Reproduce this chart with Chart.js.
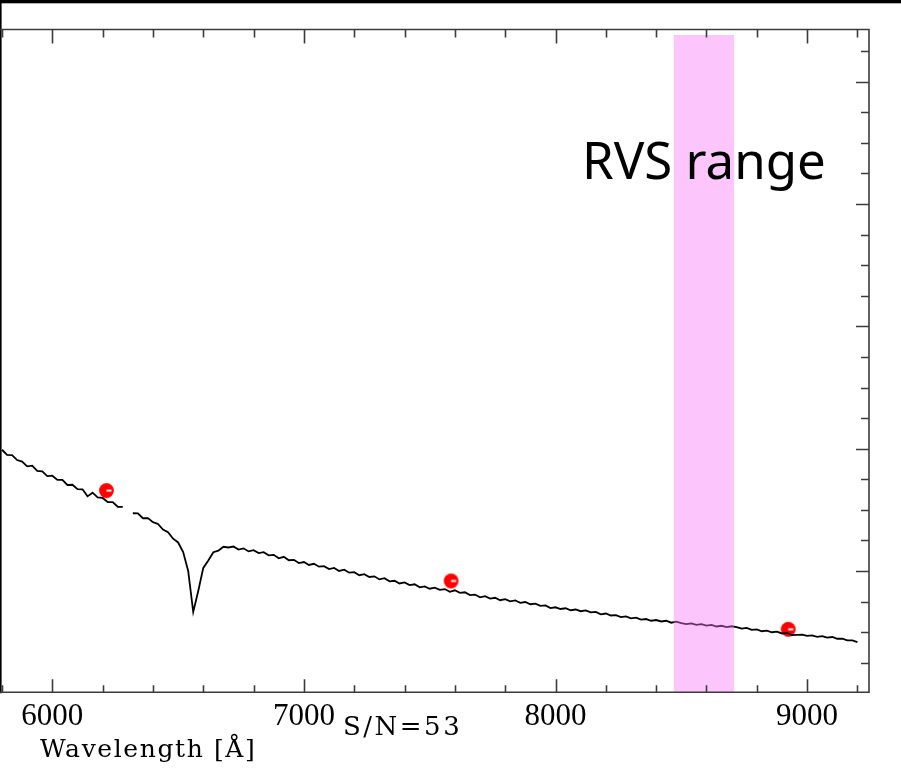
<!DOCTYPE html>
<html>
<head>
<meta charset="utf-8">
<title>Spectrum</title>
<script src="https://cdn.jsdelivr.net/npm/chart.js@4.4.1/dist/chart.umd.min.js"></script>
<style>
  html, body { margin: 0; padding: 0; background: #fff; }
  #wrap { width: 901px; height: 768px; }
</style>
</head>
<body>
<div id="wrap"><canvas id="spec" width="901" height="768"></canvas></div>
<script>
// Spectrum sampled every 20 A from 5800 A; null marks the bad pixels near 6300 A
const LAMBDA_START = 5800;
const LAMBDA_STEP = 20;
const flux = [
  1.991, 1.950, 1.947, 1.907, 1.894, 1.855, 1.861, 1.818, 1.814, 1.775,
  1.779, 1.745, 1.745, 1.703, 1.705, 1.669, 1.668, 1.610, 1.640, 1.602,
  1.597, 1.564, 1.563, 1.525, 1.524, null,  1.472, 1.471, 1.431, 1.432,
  1.399, 1.384, 1.339, 1.317, 1.264, 1.233, 1.155, 1.000, 0.665, 0.836,
  1.025, 1.086, 1.153, 1.166, 1.198, 1.192, 1.200, 1.175, 1.185, 1.160,
  1.170, 1.146, 1.154, 1.128, 1.132, 1.104, 1.116, 1.088, 1.091, 1.065,
  1.073, 1.049, 1.059, 1.035, 1.039, 1.015, 1.025, 1.000, 1.010, 0.986,
  0.990, 0.965, 0.974, 0.951, 0.956, 0.931, 0.941, 0.915, 0.920, 0.898,
  0.906, 0.885, 0.891, 0.866, 0.874, 0.855, 0.864, 0.845, 0.852, 0.829,
  0.842, 0.821, 0.826, 0.803, 0.807, 0.784, 0.794, 0.774, 0.781, 0.761,
  0.769, 0.751, 0.759, 0.740, 0.746, 0.728, 0.733, 0.715, 0.718, 0.696,
  0.703, 0.689, 0.695, 0.679, 0.685, 0.671, 0.677, 0.661, 0.666, 0.646,
  0.652, 0.636, 0.639, 0.623, 0.628, 0.612, 0.618, 0.602, 0.607, 0.593,
  0.599, 0.587, 0.593, 0.577, 0.585, 0.573, 0.566, 0.572, 0.559, 0.565,
  0.554, 0.559, 0.546, 0.552, 0.541, 0.548, 0.541, 0.528, 0.534, 0.519,
  0.522, 0.507, 0.512, 0.499, 0.504, 0.489, 0.493, 0.475, 0.477, 0.479,
  0.469, 0.474, 0.462, 0.467, 0.455, 0.460, 0.446, 0.447, 0.433, 0.432,
  0.418
];

// photometric points
const photoLambda = [6215, 7585, 8925];
const photoFlux = [1.657, 0.918, 0.523];

const rvsRange = [8470, 8710];
const xTickLabels = ['6000', '7000', '8000', '9000'];
const X_MIN = 5796, X_MAX = 9246;
const Y_MIN = 0.008, Y_MAX = 5.427;

const spectrum = flux.map((f, i) => ({ x: LAMBDA_START + i * LAMBDA_STEP, y: f }));
const photometry = photoLambda.map((w, i) => ({ x: w, y: photoFlux[i] }));

// red marker with the little white bar
function makeDot() {
  const c = document.createElement('canvas');
  c.width = 17; c.height = 17;
  const g = c.getContext('2d');
  g.fillStyle = '#ff0000';
  g.beginPath();
  g.arc(8.5, 8.5, 7.4, 0, Math.PI * 2);
  g.fill();
  g.fillStyle = '#ffffff';
  g.fillRect(8.5, 7.5, 5, 2);
  return c;
}

const decor = {
  id: 'decor',
  beforeDraw(chart) {
    const ctx = chart.ctx;
    ctx.save();
    ctx.fillStyle = '#fff';
    ctx.fillRect(0, 0, chart.width, chart.height);
    ctx.restore();
  },
  afterDatasetsDraw(chart) {
    const { ctx, chartArea, scales } = chart;
    const x0 = scales.x.getPixelForValue(rvsRange[0]);
    const x1 = scales.x.getPixelForValue(rvsRange[1]);
    ctx.save();
    ctx.fillStyle = 'rgba(248,120,248,0.42)';
    ctx.fillRect(x0, chartArea.top + 5.5, x1 - x0, chartArea.bottom - chartArea.top - 5.5);
    ctx.restore();
  },
  afterDraw(chart) {
    const { ctx, chartArea: a, scales } = chart;
    const xs = scales.x, ys = scales.y;
    ctx.save();

    // black edges of the frame
    ctx.fillStyle = '#000';
    ctx.fillRect(0, 0, chart.width, 3.3);
    ctx.fillRect(0, 0, 1.6, a.bottom + 1);

    // box
    ctx.strokeStyle = '#3c3c3c';
    ctx.lineWidth = 1.6;
    ctx.beginPath();
    ctx.moveTo(0, a.top);
    ctx.lineTo(a.right, a.top);
    ctx.lineTo(a.right, a.bottom);
    ctx.lineTo(0, a.bottom);
    ctx.stroke();

    // wavelength ticks, pointing inwards top and bottom
    ctx.beginPath();
    for (let w = 5800; w <= 9200; w += 200) {
      const px = Math.round(xs.getPixelForValue(w)) + 0.5;
      const major = w % 1000 === 0;
      ctx.moveTo(px, a.top);
      ctx.lineTo(px, a.top + (major ? 14 : 8));
      ctx.moveTo(px, a.bottom);
      ctx.lineTo(px, a.bottom - (major ? 13 : 7));
    }
    // flux ticks on the right
    for (let k = 1; k * 0.25 < Y_MAX; k++) {
      const v = k * 0.25;
      const py = Math.round(ys.getPixelForValue(v)) + 0.5;
      const major = k % 4 === 0;
      ctx.moveTo(a.right, py);
      ctx.lineTo(a.right - (major ? 13 : 8), py);
    }
    ctx.stroke();

    // tick labels
    ctx.fillStyle = '#000';
    ctx.textAlign = 'center';
    ctx.textBaseline = 'alphabetic';
    ctx.font = '31px "Liberation Serif"';
    xTickLabels.forEach(t => {
      ctx.fillText(t, xs.getPixelForValue(Number(t)), 725);
    });

    ctx.textAlign = 'left';
    ctx.font = '26px "DejaVu Serif"';
    ctx.letterSpacing = '2.5px';
    ctx.fillText('S/N=53', 343, 735);

    ctx.font = '25px "DejaVu Serif"';
    ctx.letterSpacing = '1.6px';
    ctx.fillText('Wavelength [\u00C5]', 40, 757);

    ctx.letterSpacing = '0px';
    ctx.font = '51px "Noto Sans"';
    ctx.fillText('RVS range', 582, 179);

    ctx.restore();
  }
};

new Chart(document.getElementById('spec'), {
  type: 'scatter',
  data: {
    datasets: [
      {
        label: 'spectrum',
        data: spectrum,
        showLine: true,
        spanGaps: false,
        borderColor: '#000',
        borderWidth: 1.8,
        pointRadius: 0,
        tension: 0
      },
      {
        label: 'photometry',
        data: photometry,
        pointStyle: makeDot(),
        pointRadius: 8
      }
    ]
  },
  options: {
    responsive: false,
    animation: false,
    devicePixelRatio: 1,
    layout: { autoPadding: false, padding: { left: 1, top: 29.5, right: 32, bottom: 75.7 } },
    plugins: { legend: { display: false }, tooltip: { enabled: false } },
    scales: {
      x: { type: 'linear', min: X_MIN, max: X_MAX, display: false },
      y: { type: 'linear', min: Y_MIN, max: Y_MAX, display: false }
    }
  },
  plugins: [decor]
});
</script>
</body>
</html>
